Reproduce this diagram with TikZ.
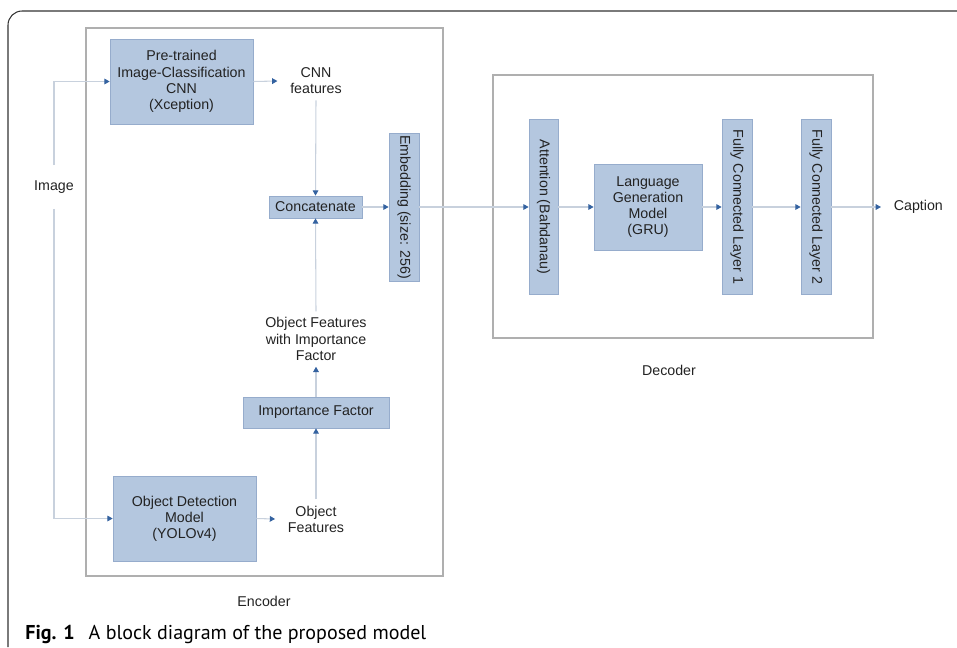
\documentclass[tikz,border=0pt]{standalone}
\usepackage{fontspec}
\setmainfont{Liberation Sans}
\newfontfamily\capfont{PT Sans}
\usetikzlibrary{arrows.meta}

\definecolor{boxfill}{RGB}{180,199,223}
\definecolor{boxedge}{RGB}{150,172,204}
\definecolor{linkgray}{RGB}{200,209,221}
\definecolor{tipblue}{RGB}{52,98,160}
\definecolor{framegray}{RGB}{175,175,175}
\definecolor{txt}{RGB}{34,34,34}

\tikzset{
    block/.style={draw=boxedge, fill=boxfill, align=center, inner sep=0pt, text=txt},
    plain/.style={align=center, inner xsep=0.25cm, inner ysep=0.12cm, text=txt},
    link/.style={draw=linkgray, line width=0.6pt},
    flow/.style={link, -{Triangle[length=3pt,width=3.2pt,color=tipblue]}},
    stage/.style={draw=framegray, line width=0.6pt}
}

\begin{document}
\begin{tikzpicture}[x=0.02cm, y=-0.02cm, font=\fontsize{8.1}{9.2}\selectfont]
    \useasboundingbox (0,0) rectangle (957,647);
    \draw[black!80, line width=0.6pt, rounded corners=8] (8,647) -- (8,11) -- (957,11);

    \draw[stage] (86,28) rectangle (443,576);
    \node[plain] (enclabel) at (264,601) {Encoder};
    \draw[stage] (493,75) rectangle (873,338);
    \node[plain] (declabel) at (669,370) {Decoder};

    \node[plain, minimum height=0.86cm, inner ysep=0pt] (img) at (54,187) {Image};

    \node[block, minimum width=2.86cm, minimum height=1.7cm] (cnn) at (181.5,81.5)
        {Pre-trained\\Image-Classification\\CNN\\(Xception)};
    \node[plain] (cnnf) at (316,81) {CNN\\features};
    \node[block, minimum width=1.86cm, minimum height=0.44cm] (concat) at (315.5,207) {Concatenate};
    \node[block, rotate=-90, minimum width=2.96cm, minimum height=0.6cm] (embed) at (404,207)
        {Embedding (size: 256)};
    \node[plain] (ofif) at (316,339) {Object Features\\with Importance\\Factor};
    \node[block, minimum width=2.92cm, minimum height=0.62cm] (impf) at (316,412.5) {Importance Factor};
    \node[plain] (objf) at (316,519) {Object\\Features};
    \node[block, minimum width=2.86cm, minimum height=1.7cm] (odm) at (184.5,518.5)
        {Object Detection\\Model\\(YOLOv4)};

    \node[block, rotate=-90, minimum width=3.5cm, minimum height=0.58cm] (att) at (543.5,207)
        {Attention (Bahdanau)};
    \node[block, minimum width=2.16cm, minimum height=1.72cm] (lgm) at (648,207)
        {Language\\Generation\\Model\\(GRU)};
    \node[block, rotate=-90, minimum width=3.5cm, minimum height=0.6cm] (fc1) at (737,207)
        {Fully Connected Layer 1};
    \node[block, rotate=-90, minimum width=3.5cm, minimum height=0.6cm] (fc2) at (816,207)
        {Fully Connected Layer 2};
    \node[plain, anchor=west] (cap) at (881,207) {Caption};

    \draw[flow] (img.north) |- (cnn.west);
    \draw[flow] (img.south) |- (odm.west);
    \draw[flow] (cnn.east) -- (cnnf.west);
    \draw[flow] (cnnf.south) -- (concat.north);
    \draw[flow] (odm.east) -- (objf.west);
    \draw[flow] (objf.north) -- (impf.south);
    \draw[flow] (impf.north) -- (ofif.south);
    \draw[flow] (ofif.north) -- (concat.south);
    \draw[flow] (concat.east) -- (embed.south);
    \draw[flow] (embed.north) -- (att.south);
    \draw[flow] (att.north) -- (lgm.west);
    \draw[flow] (lgm.east) -- (fc1.south);
    \draw[flow] (fc1.north) -- (fc2.south);
    \draw[flow] (fc2.north) -- (cap.west);

    \node[anchor=base west, inner sep=0pt, font=\capfont\fontsize{11.4}{13}\selectfont] (figcap) at (25,639)
        {\textbf{Fig. 1}\hspace{0.7em}A block diagram of the proposed model};
\end{tikzpicture}
\end{document}
